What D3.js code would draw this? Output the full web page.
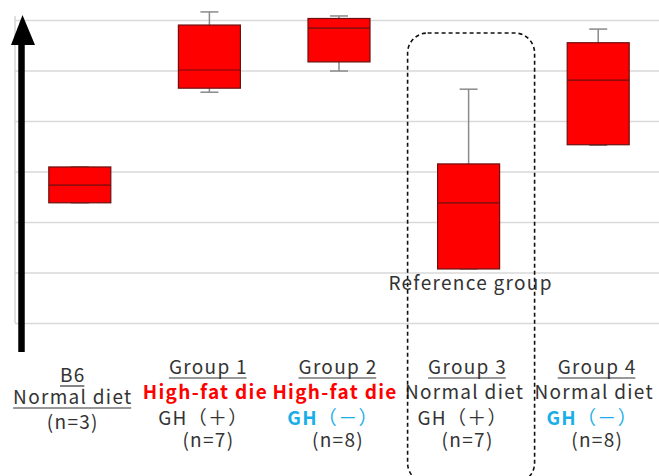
<!DOCTYPE html>
<html>
<head>
<meta charset="utf-8">
<script src="https://cdn.jsdelivr.net/npm/d3@7"></script>
<style>
  html, body { margin: 0; padding: 0; background: #fff; }
  svg { display: block; }
  text { font-family: "Noto Sans CJK JP", "Noto Sans", sans-serif; letter-spacing: 1.3px; }
</style>
</head>
<body>
<svg id="chart" width="659" height="476"></svg>
<script>
// Groups along the x axis
const categories = ["B6", "Group 1", "Group 2", "Group 3", "Group 4"];

// Box-plot statistics per group
const minValues    = [23.8, 45.7, 49.9, 10.7, 35.2];
const q1Values     = [23.8, 46.5, 51.7, 10.7, 35.3];
const medianValues = [27.3, 50.1, 58.4, 23.8, 48.1];
const q3Values     = [30.9, 59.0, 60.3, 31.5, 55.5];
const maxValues    = [30.9, 61.6, 60.8, 46.3, 58.2];

// Label lines under each group
const dietLabels = ["Normal diet", "High-fat die", "High-fat die", "Normal diet", "Normal diet"];
const ghLabels   = ["", "＋", "－", "＋", "－"];
const nLabels    = ["(n=3)", "(n=7)", "(n=8)", "(n=7)", "(n=8)"];
const yTicks     = [0, 10, 20, 30, 40, 50, 60];
const highlightGroup = "Group 3";
const highlightText  = "Reference group";

const svg = d3.select("#chart");
const W = 659;
const plot = { left: 15, right: 663, top: 20, bottom: 323 };

const x = d3.scalePoint().domain(categories).range([plot.left, plot.right]).padding(0.5);
const y = d3.scaleLinear().domain([0, 60]).range([plot.bottom, plot.top]);

// Horizontal gridlines
const grid = svg.append("g")
  .attr("transform", `translate(${plot.left},0)`)
  .call(d3.axisLeft(y).tickValues(yTicks).tickFormat("").tickSize(-(W - plot.left)).tickSizeOuter(0));
grid.select(".domain").remove();
grid.selectAll(".tick line").attr("stroke", "#d9d9d9").attr("stroke-width", 1.3);

// Vertical axis line
svg.append("line")
  .attr("x1", plot.left).attr("x2", plot.left)
  .attr("y1", plot.top - 4).attr("y2", plot.bottom)
  .attr("stroke", "#d0d0d0").attr("stroke-width", 1.3);

// Boxes
const boxW = 62, capW = 18;
const data = categories.map((c, i) => ({
  c, min: minValues[i], q1: q1Values[i], med: medianValues[i], q3: q3Values[i], max: maxValues[i]
}));

const g = svg.append("g").selectAll("g").data(data).join("g");

g.append("line")
  .attr("x1", d => x(d.c)).attr("x2", d => x(d.c))
  .attr("y1", d => y(d.max)).attr("y2", d => y(d.min))
  .attr("stroke", "#8a8a8a").attr("stroke-width", 1.5);
g.append("line")
  .attr("x1", d => x(d.c) - capW / 2).attr("x2", d => x(d.c) + capW / 2)
  .attr("y1", d => y(d.max)).attr("y2", d => y(d.max))
  .attr("stroke", "#8a8a8a").attr("stroke-width", 1.5);
g.append("line")
  .attr("x1", d => x(d.c) - capW / 2).attr("x2", d => x(d.c) + capW / 2)
  .attr("y1", d => y(d.min)).attr("y2", d => y(d.min))
  .attr("stroke", "#8a8a8a").attr("stroke-width", 1.5);
g.append("rect")
  .attr("x", d => x(d.c) - boxW / 2).attr("width", boxW)
  .attr("y", d => y(d.q3)).attr("height", d => y(d.q1) - y(d.q3))
  .attr("fill", "#ff0000").attr("stroke", "#6b1010").attr("stroke-width", 1.2);
g.append("line")
  .attr("x1", d => x(d.c) - boxW / 2).attr("x2", d => x(d.c) + boxW / 2)
  .attr("y1", d => y(d.med)).attr("y2", d => y(d.med))
  .attr("stroke", "#6b1010").attr("stroke-width", 1.2);

// Upward arrow along the axis
svg.append("line")
  .attr("x1", 21.5).attr("x2", 21.5).attr("y1", 40).attr("y2", 352)
  .attr("stroke", "#000").attr("stroke-width", 6.5);
svg.append("path")
  .attr("d", "M22.5,15 L35,45 L11,45 Z")
  .attr("fill", "#000");

// Group labels
const textCol = "#333333";
const red = "#ff0000";
const blue = "#1aaee8";
const fs = 19;

function underline(sel) {
  const bb = sel.node().getBBox();
  svg.append("line")
    .attr("x1", bb.x).attr("x2", bb.x + bb.width - 1.3)
    .attr("y1", +sel.attr("y") + 4).attr("y2", +sel.attr("y") + 4)
    .attr("stroke", textCol).attr("stroke-width", 1.2);
}

categories.forEach((c, i) => {
  const cx = x(c);
  if (c === "B6") {
    const bx = cx - 7;
    underline(svg.append("text").attr("x", bx).attr("y", 382).attr("text-anchor", "middle")
      .attr("font-size", fs).attr("fill", textCol).text(c));
    underline(svg.append("text").attr("x", bx).attr("y", 404).attr("text-anchor", "middle")
      .attr("font-size", fs).attr("fill", textCol).text(dietLabels[i]));
    svg.append("text").attr("x", bx).attr("y", 429).attr("text-anchor", "middle")
      .attr("font-size", fs).attr("fill", textCol).text(nLabels[i]);
    return;
  }
  const lx = cx - 1;
  underline(svg.append("text").attr("x", lx).attr("y", 374).attr("text-anchor", "middle")
    .attr("font-size", fs).attr("fill", textCol).text(c));

  const highFat = dietLabels[i].startsWith("High");
  svg.append("text").attr("x", cx - 4).attr("y", 399).attr("text-anchor", "middle")
    .attr("font-size", fs)
    .attr("font-weight", highFat ? "bold" : "normal")
    .attr("fill", highFat ? red : textCol)
    .text(dietLabels[i]);

  const minus = ghLabels[i] === "－";
  const gh = svg.append("text").attr("x", cx - 6).attr("y", 425).attr("text-anchor", "middle")
    .attr("font-size", fs).attr("fill", minus ? blue : textCol);
  gh.append("tspan").attr("font-weight", minus ? "bold" : "normal").text("GH");
  gh.append("tspan").text("（" + ghLabels[i] + "）");

  svg.append("text").attr("x", lx).attr("y", 447).attr("text-anchor", "middle")
    .attr("font-size", fs).attr("fill", textCol).text(nLabels[i]);
});

// Highlight frame around the reference group
const hx = x(highlightGroup);
svg.append("rect")
  .attr("x", hx - 61).attr("y", 33).attr("width", 127).attr("height", 450)
  .attr("rx", 20).attr("ry", 20)
  .attr("fill", "none").attr("stroke", "#111").attr("stroke-width", 1.6)
  .attr("stroke-dasharray", "4,3");

svg.append("text")
  .attr("x", hx + 2).attr("y", 290).attr("text-anchor", "middle")
  .attr("font-size", fs).attr("fill", textCol)
  .text(highlightText);
</script>
</body>
</html>
